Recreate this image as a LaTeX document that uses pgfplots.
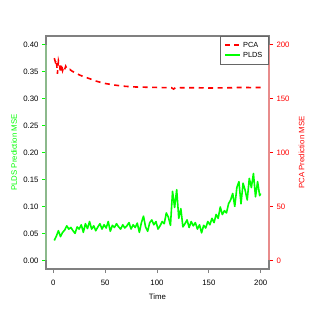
\documentclass[border=0pt]{standalone}
\usepackage{pgfplots}
\pgfplotsset{compat=1.18}
\usepackage{fontspec}
\setmainfont{Liberation Sans}
\definecolor{rgreen}{RGB}{0,255,0}
\definecolor{rred}{RGB}{255,0,0}
\definecolor{boxgray}{RGB}{128,128,128}
\definecolor{lspine}{RGB}{140,185,140}
\definecolor{rspine}{RGB}{232,140,140}
\newcommand{\fs}{\fontsize{7.8bp}{9bp}\selectfont}
\pgfplotsset{
  common/.style={
    at={(46bp,46bp)}, anchor=south west,
    scale only axis, width=223bp, height=233bp,
    xmin=-7, xmax=208,
    tick align=outside, major tick length=4bp,
    /pgf/number format/assume math mode=true,
    ticklabel style={font=\fs},
    clip=false,
  }
}
\begin{document}
\begin{tikzpicture}
\useasboundingbox (0,0) rectangle (315bp,315bp);
% left axis : PLDS
\begin{axis}[common,
  ymin=-0.016, ymax=0.416,
  axis line style={draw=boxgray, line width=1.1bp},
  xtick={0,50,100,150,200}, xtick pos=bottom,
  ytick={0,0.05,0.1,0.15,0.2,0.25,0.3,0.35,0.4}, ytick pos=left,
  x tick style={boxgray, line width=0.8bp},
  y tick style={rgreen, line width=0.8bp},
  xticklabel style={yshift=-3.5bp},
  yticklabel style={/pgf/number format/.cd, fixed, fixed zerofill, precision=2},
  xlabel={Time},
  ylabel={\color{rgreen}PLDS Prediction MSE},
  every axis x label/.style={at={(axis description cs:0.5,-0.12)}, anchor=center, font=\fs},
  every axis y label/.style={at={(axis description cs:-0.1435,0.5)}, anchor=center, rotate=90, font=\fs},
]
\addplot[rgreen, line width=1.6bp, line join=round] coordinates {
(1,0.037)(3,0.045)(5,0.055)(7,0.044)(9,0.052)(11,0.056)(13,0.064)(15,0.058)(17,0.061)(19,0.055)
(21,0.050)(23,0.062)(25,0.058)(27,0.066)(29,0.052)(31,0.068)(33,0.059)(35,0.072)(37,0.058)(39,0.064)
(41,0.055)(43,0.062)(45,0.068)(47,0.058)(49,0.066)(51,0.060)(53,0.072)(55,0.054)(57,0.065)(59,0.061)
(61,0.068)(63,0.062)(65,0.058)(67,0.066)(69,0.060)(71,0.064)(73,0.070)(75,0.058)(77,0.066)(79,0.061)
(81,0.069)(83,0.052)(85,0.070)(87,0.082)(89,0.062)(91,0.054)(93,0.070)(95,0.075)(97,0.066)(99,0.072)
(101,0.058)(103,0.064)(105,0.072)(107,0.068)(109,0.088)(111,0.080)(113,0.065)(115,0.128)(117,0.098)(119,0.131)
(121,0.078)(123,0.096)(125,0.062)(127,0.068)(129,0.075)(131,0.061)(133,0.072)(135,0.064)(137,0.070)(139,0.058)
(141,0.066)(143,0.051)(145,0.065)(147,0.060)(149,0.072)(151,0.066)(153,0.078)(155,0.070)(157,0.085)(159,0.078)
(161,0.099)(163,0.085)(165,0.092)(167,0.088)(169,0.105)(171,0.112)(173,0.124)(175,0.100)(177,0.135)(179,0.146)
(181,0.105)(183,0.143)(185,0.130)(187,0.112)(189,0.152)(191,0.135)(193,0.161)(195,0.118)(197,0.146)(199,0.120)
(200,0.124)
};
\draw[lspine, line width=1.2bp] ({rel axis cs:0,0}|-{axis cs:0,0}) -- ({rel axis cs:0,0}|-{axis cs:0,0.4});
\end{axis}
% right axis : PCA
\begin{axis}[common,
  ymin=-8, ymax=208,
  axis x line=none,
  axis y line*=right,
  axis line style={draw=boxgray, line width=1.1bp, -},
  ytick={0,50,100,150,200},
  y tick style={rred, line width=0.8bp},
  yticklabel style={rred},
  ylabel={\color{rred}PCA Prediction MSE},
  every axis y label/.style={at={(axis description cs:1.1466,0.5)}, anchor=center, rotate=90, font=\fs},
  legend style={at={(rel axis cs:1,1)}, anchor=north east, draw=boxgray!80!black, line width=0.8bp,
    font=\fontsize{7.4bp}{8.8bp}\selectfont, inner xsep=3.8bp, inner ysep=4bp, row sep=0pt,
    nodes={inner xsep=2.4bp, inner ysep=0.8bp, text height=6.2bp, text depth=2bp}},
  legend cell align=left,
  legend image code/.code={\draw[#1] (0bp,0bp) -- (15bp,0bp);},
]
\addplot[rred, line width=1.6bp, dash pattern=on 5bp off 4.5bp] coordinates {
(1,187.5)(2,184)(3,186)(4,173)(5,185)(6,181)(7,174)(8,182)(9,176)(10,179)(11,177)(12,180)
(13,178)(14,177)(15,176.5)(16,177)(18,175.5)(20,174.5)(25,172)(30,170)(35,168.5)(40,166.5)
(45,165.2)(50,164)(55,163.2)(60,162.4)(65,161.8)(70,161.3)(75,161)(80,160.7)(90,160.5)
(100,160.3)(110,160.1)(114,160)(116,158.8)(118,160.2)(125,160)(140,160)(150,159.8)(160,159.9)
(170,160)(180,160.3)(190,160.2)(200,160.3)
};
\addlegendentry{PCA}
\addlegendimage{rgreen, line width=1.6bp}
\addlegendentry{PLDS}
\draw[rspine, line width=1.2bp] ({rel axis cs:1,0}|-{axis cs:0,0}) -- ({rel axis cs:1,0}|-{axis cs:0,200});
\end{axis}
\end{tikzpicture}
\end{document}
